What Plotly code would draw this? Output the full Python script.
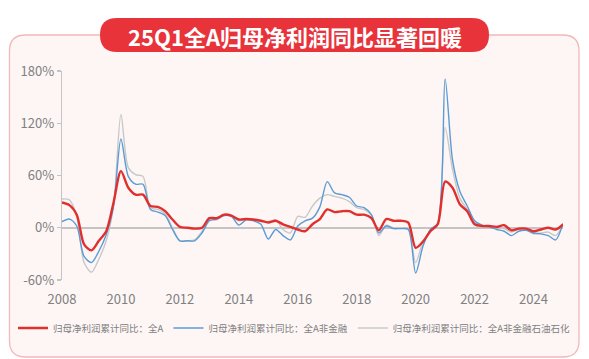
import plotly.graph_objects as go

# ---------------- data (quarterly cumulative YoY, %) ----------------
years = list(range(2008, 2026))
quarters = [f"{y}Q{q}" for y in years for q in (1, 2, 3, 4)][:69]  # 2008Q1 .. 2025Q1

all_a = [29, 26, 15, -19, -26, -15, -4, 29, 65, 46, 38, 38,
         25, 24, 19, 9.5, 1, 0, -1, 0, 11, 11, 15, 14,
         9.5, 10, 9.5, 8, 6, 8, 4, 1, -2, -4, 4, 10,
         21, 18, 19, 19, 15, 15, 11, -3, 10, 8, 8, 6,
         -23, -16, -4, 4, 53, 46, 27, 19, 4, 2, 2, 1,
         3, -3, -1, -1, -4, -2, 0, -2, 4]
non_fin = [7, 10, 2, -33, -40, -27, -8, 25, 102, 59, 50, 50,
           21, 18, 14, -2, -15, -15, -15, -6, 8, 10, 14, 13,
           3, 9, 8, 4, -13, -2, -9, -14, 2, 8, 11, 24,
           53, 40, 38, 35, 25, 23, 15, -6, 2, -1, -1, -2,
           -52, -21, -2, 5, 171, 78, 42, 25, 8, 3, 1, -2,
           -4, -9, -4, -3, -6, -7, -9, -14, 5]
non_fin_ex_oil = [33, 32, 13, -40, -51, -36, -15, 25, 130, 69, 61, 59,
                  23, 21, 16, 0, -15, -15, -14, -4, 9, 9, 14, 13,
                  8, 10, 9, 7, 7, 9, -2, -6, 13, 12, 25, 34,
                  38, 36, 34, 30, 23, 21, 14, -9, 3, 0, 0, -1,
                  -40, -16, -3, 5, 115, 67, 34, 21, 6, 2, 1, 0,
                  -1, -5, -2, -2, -7, -6, -5, -9, 4]

names = ["归母净利润累计同比：全A",
         "归母净利润累计同比：全A非金融",
         "归母净利润累计同比：全A非金融石油石化"]
tick_years = [str(y) for y in range(2008, 2025, 2)]
tick_cats = [f"{y}Q1" for y in tick_years]
y_ticks = [-60, 0, 60, 120, 180]
y_ticktext = [f"{v}%" for v in y_ticks]
title_text = "25Q1全A归母净利润同比显著回暖"

# ---------------- styling ----------------
W, H = 589, 359
ML, MR, MT, MB = 62, 26, 71, 79
PW, PH = W - ML - MR, H - MT - MB
RED, BLUE, GRAY = "#e0302e", "#5b9bd5", "#c8c8c8"
AXIS_COL = "#c4c4c4"
TXT = "#808080"
FONT = "Noto Sans CJK SC"


def px2paper(x, y):
    return (x - ML) / PW, (MT + PH - y) / PH


def round_rect(x0, y0, x1, y1, r):
    def P(x, y):
        px, py = px2paper(x, y)
        return f"{px:.5f},{py:.5f}"
    d = f"M {P(x0 + r, y0)} L {P(x1 - r, y0)} Q {P(x1, y0)} {P(x1, y0 + r)} "
    d += f"L {P(x1, y1 - r)} Q {P(x1, y1)} {P(x1 - r, y1)} "
    d += f"L {P(x0 + r, y1)} Q {P(x0, y1)} {P(x0, y1 - r)} "
    d += f"L {P(x0, y0 + r)} Q {P(x0, y0)} {P(x0 + r, y0)} Z"
    return d


fig = go.Figure()
for vals, name, col, w, rank in [(non_fin_ex_oil, names[2], GRAY, 1.4, 3),
                                 (non_fin, names[1], BLUE, 1.4, 2),
                                 (all_a, names[0], RED, 2.4, 1)]:
    fig.add_trace(go.Scatter(x=quarters, y=vals, name=name, mode="lines", legendrank=rank,
                             line=dict(color=col, width=w, shape="spline", smoothing=0.8),
                             hoverinfo="skip"))

shapes = [
    dict(type="path", xref="paper", yref="paper", layer="below",
         path=round_rect(9.5, 35, 579, 357, 16),
         fillcolor="#fdf6f5", line=dict(color="#f3b8b8", width=1.3)),
    dict(type="path", xref="paper", yref="paper", layer="above",
         path=round_rect(100, 18, 489, 52, 17),
         fillcolor="#e8333b", line=dict(width=0)),
]

tx, ty = px2paper(294.5, 35.5)
fig.add_annotation(x=tx, y=ty, xref="paper", yref="paper", text=f"<b>{title_text}</b>",
                   showarrow=False, xanchor="center", yanchor="middle",
                   font=dict(family=FONT, size=22, color="white"))

fig.update_layout(
    width=W, height=H,
    margin=dict(l=ML, r=MR, t=MT, b=MB, pad=0),
    paper_bgcolor="white", plot_bgcolor="rgba(0,0,0,0)",
    shapes=shapes,
    font=dict(family=FONT, color=TXT, size=13),
    showlegend=True,
    legend=dict(orientation="h", x=px2paper(13, 0)[0], xanchor="left",
                y=px2paper(0, 328)[1], yanchor="middle", itemwidth=30,
                font=dict(family=FONT, size=9.5, color=TXT),
                bgcolor="rgba(0,0,0,0)", traceorder="normal", itemclick=False),
    xaxis=dict(type="category", categoryorder="array", categoryarray=quarters,
               range=[0, len(quarters) - 1], showgrid=False, zeroline=False,
               showline=False, tickmode="array", tickvals=tick_cats, ticktext=tick_years,
               ticks="", ticklabelstandoff=10,
               tickfont=dict(family=FONT, size=13, color=TXT)),
    xaxis2=dict(type="category", categoryorder="array", categoryarray=quarters,
                overlaying="x", matches="x", anchor="free", position=0.25, side="bottom",
                range=[0, len(quarters) - 1], showgrid=False, zeroline=False,
                showline=False, tickmode="array", tickvals=tick_cats,
                ticktext=[""] * len(tick_cats), showticklabels=False,
                ticks="inside", ticklen=5, tickwidth=1.2, tickcolor=AXIS_COL),
    yaxis=dict(range=[-60, 180], tickmode="array", tickvals=y_ticks, ticktext=y_ticktext,
               showgrid=False,
               zeroline=True, zerolinecolor=AXIS_COL, zerolinewidth=1.5,
               showline=True, linecolor=AXIS_COL, linewidth=1.2,
               ticks="outside", ticklen=4, tickcolor=AXIS_COL, tickwidth=1.2,
               ticklabelstandoff=0,
               tickfont=dict(family=FONT, size=13, color=TXT)),
)

fig.write_html("out.html", config={"displayModeBar": False, "staticPlot": True},
               post_script="document.body.style.margin='0';document.body.style.overflow='hidden';")
